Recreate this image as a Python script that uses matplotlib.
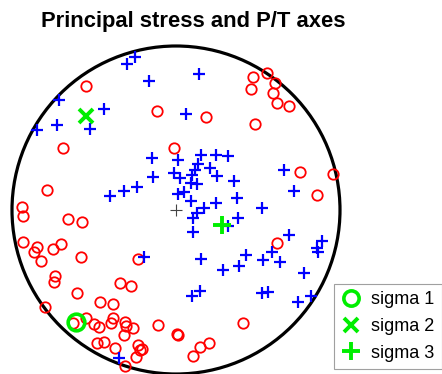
import numpy as np
import matplotlib
matplotlib.use("Agg")
import matplotlib.pyplot as plt
from matplotlib.lines import Line2D
from matplotlib.patches import Circle

plt.rcParams["font.family"] = ["Liberation Sans", "DejaVu Sans"]

# net radius / centre (pixels), used to scale to unit net
NET_R = 164.0
NET_CX, NET_CY = 176.0, 210.0

# P axes (red circles), read positions
p_x = [85.7, 156.7, 63.3, 173.7, 47.3, 21.7, 22.7, 68.3, 81.7, 23.3,
       36.7, 34.2, 41.0, 53.3, 60.8, 81.0, 138.3, 54.5, 53.7, 120.0,
       131.3, 77.3, 45.0, 100.3, 112.5, 73.0, 86.3, 94.3, 98.8, 113.3,
       111.3, 124.5, 126.3, 133.3, 123.7, 158.3, 176.5, 178.0, 97.2, 104.2,
       115.0, 138.3, 140.0, 141.7, 135.8, 125.0, 242.7, 209.3, 200.0, 193.3,
       253.3, 266.7, 251.0, 275.0, 273.3, 277.3, 289.0, 206.0, 255.0, 300.0,
       332.7, 317.3, 277.3]
p_y = [85.7, 111.0, 148.0, 148.0, 190.0, 207.0, 216.0, 218.7, 221.7, 241.7,
       247.3, 251.7, 260.5, 249.0, 244.3, 256.7, 259.3, 276.0, 281.7, 283.0,
       286.3, 293.0, 306.7, 302.0, 304.2, 323.3, 317.5, 323.8, 326.7, 318.3,
       323.0, 321.7, 326.3, 328.0, 335.0, 325.0, 333.5, 335.0, 343.3, 342.2,
       348.3, 345.0, 350.0, 348.7, 357.3, 366.3, 322.7, 343.3, 346.7, 355.7,
       76.7, 73.3, 89.0, 83.3, 92.7, 103.3, 105.7, 116.7, 124.0, 171.7,
       174.3, 195.0, 243.3]

# T axes (blue plus)
t_x = [135.0, 127.3, 149.0, 199.0, 59.3, 104.3, 56.7, 36.7, 90.0, 185.5,
       151.7, 178.3, 200.7, 216.0, 228.3, 198.3, 153.3, 174.0, 180.0, 191.7,
       195.0, 210.0, 217.3, 191.0, 196.7, 234.0, 137.3, 124.0, 110.0, 178.3,
       184.0, 190.7, 237.3, 216.0, 204.0, 196.7, 192.7, 238.3, 192.7, 228.3,
       284.3, 294.0, 261.7, 289.3, 321.7, 316.7, 318.3, 200.7, 245.7, 239.3,
       223.3, 263.3, 271.7, 280.0, 304.0, 191.7, 200.0, 261.7, 268.3, 298.3,
       311.0, 144.0, 119.0]
t_y = [57.3, 64.0, 80.7, 74.0, 100.0, 109.0, 124.7, 130.0, 129.3, 114.3,
       158.3, 160.0, 155.0, 155.0, 155.7, 164.3, 176.7, 172.7, 177.7, 175.0,
       170.0, 167.7, 176.0, 182.7, 184.3, 181.0, 187.3, 190.7, 195.7, 194.3,
       192.3, 201.0, 198.3, 203.3, 208.3, 212.7, 218.3, 218.3, 231.7, 225.7,
       170.0, 190.7, 208.0, 235.0, 240.7, 248.3, 251.7, 259.3, 255.0, 266.0,
       270.0, 260.0, 251.7, 262.3, 272.7, 296.0, 291.0, 293.3, 292.3, 301.5,
       296.3, 256.7, 357.5]

# principal stresses
sigma_labels = ["sigma 1", "sigma 2", "sigma 3"]
sigma_x = [75.5, 86.0, 221.7]
sigma_y = [321.7, 116.0, 225.0]


def to_net(px, py):
    px = np.asarray(px)
    py = np.asarray(py)
    return (px - NET_CX) / NET_R, (NET_CY - py) / NET_R


W, H = 442, 374
fig = plt.figure(figsize=(W / 100, H / 100), dpi=100)
ax = fig.add_axes([0, 0, 1, 1])
ax.set_xlim(-NET_CX / NET_R, (W - NET_CX) / NET_R)
ax.set_ylim(-(H - NET_CY) / NET_R, NET_CY / NET_R)
ax.set_aspect("equal")
ax.axis("off")

ax.add_patch(Circle((0, 0), 1.0, fill=False, ec="black", lw=2.3, zorder=1))
ax.plot([0], [0], marker="+", color="#444444", ms=9, mew=0.8, zorder=2)

px, py = to_net(p_x, p_y)
ax.plot(px, py, "o", mfc="none", mec="#ff0000", ms=7.5, mew=1.3, ls="none", zorder=3)
tx, ty = to_net(t_x, t_y)
ax.plot(tx, ty, "+", color="#0000ff", ms=8, mew=1.6, ls="none", zorder=4)

sx, sy = to_net(sigma_x, sigma_y)
green = "#00ee00"
ax.plot(sx[0], sy[0], "o", mfc="none", mec=green, ms=12, mew=2.6, zorder=5)
ax.plot(sx[1], sy[1], "x", color=green, ms=10, mew=2.8, zorder=5)
ax.plot(sx[2], sy[2], "+", color=green, ms=13, mew=2.8, zorder=5)

handles = [
    Line2D([], [], marker="o", mfc="none", mec=green, ms=11, mew=2.6, ls="none"),
    Line2D([], [], marker="x", color=green, ms=10, mew=2.8, ls="none"),
    Line2D([], [], marker="+", color=green, ms=13, mew=2.8, ls="none"),
]
leg = fig.legend(handles, sigma_labels, loc="lower right",
                 bbox_to_anchor=(441.5 / W, 1 - 369 / H),
                 fontsize=13, frameon=True, fancybox=False,
                 handlelength=1.1, handletextpad=0.55, labelspacing=0.55,
                 borderpad=0.4, borderaxespad=0.0)
leg.get_frame().set_edgecolor("#888888")
leg.get_frame().set_linewidth(0.8)

fig.text(193.5 / W, 1 - 21 / H, "Principal stress and P/T axes",
         ha="center", va="center", fontsize=15.8, fontweight="bold")

fig.savefig("out.png", dpi=100)
